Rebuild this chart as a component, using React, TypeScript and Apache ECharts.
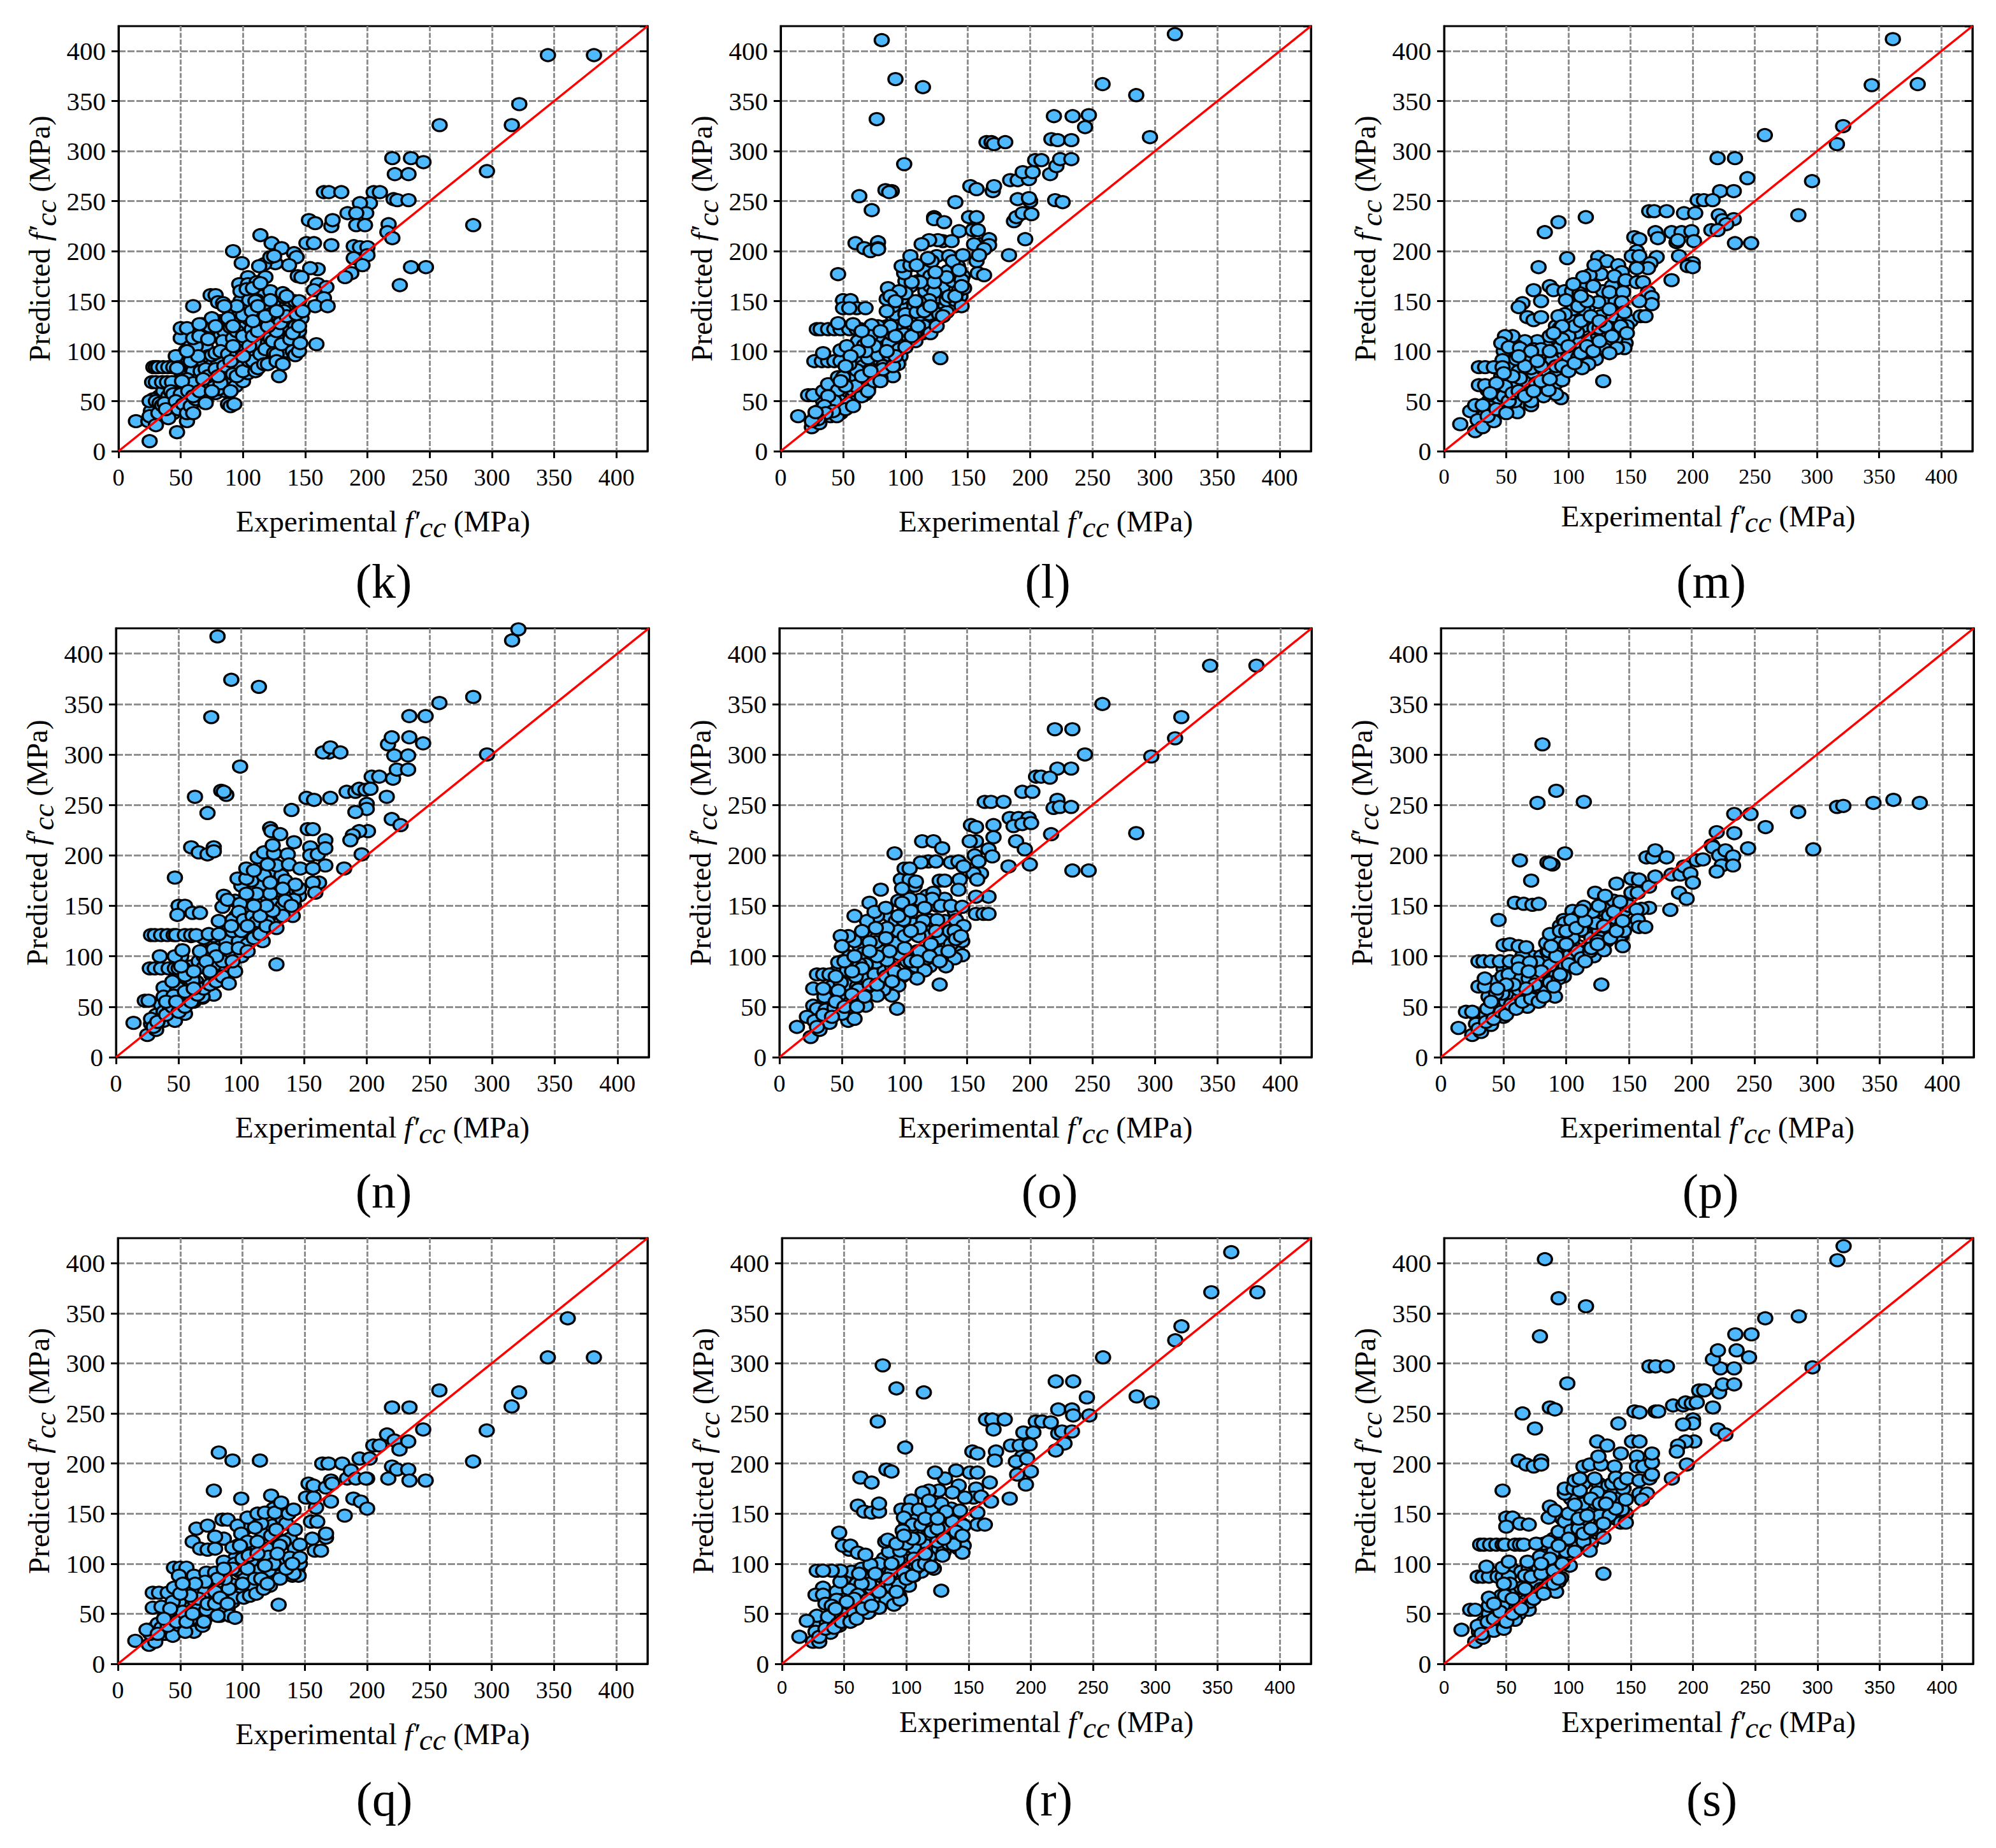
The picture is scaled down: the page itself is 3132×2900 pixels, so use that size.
import React, { useEffect, useRef } from "react";
import * as echarts from "echarts";

const axisMax = 425;
const identityLine = [[0, 0], [425, 425]];
const xTitle = "Experimental f′cc (MPa)";
const yTitle = "Predicted f′cc (MPa)";

const pointsK = [[14,30],[25,10],[47,19],[345,396],[382,396],[322,347],[316,326],[258,326],[296,280],[285,226],[220,293],[235,293],[245,289],[222,277],[233,277],[221,252],[224,251],[233,251],[165,259],[169,259],[179,259],[205,259],[210,259],[202,248],[194,248],[199,238],[184,238],[191,238],[191,226],[198,226],[217,227],[216,219],[220,213],[171,225],[172,231],[153,231],[158,228],[151,208],[157,208],[171,206],[189,205],[194,204],[200,204],[200,196],[189,193],[196,186],[187,178],[182,174],[235,184],[247,184],[226,166],[114,216],[123,208],[131,203],[92,200],[99,188],[141,198],[143,194],[137,186],[126,188],[117,187],[113,185],[122,194],[160,182],[154,183],[144,175],[147,174],[104,174],[118,174],[160,167],[167,164],[157,161],[97,167],[104,167],[111,169],[122,160],[98,160],[122,151],[133,154],[111,151],[105,151],[74,156],[78,156],[80,149],[84,148],[88,143],[60,145],[145,150],[165,153],[158,145],[168,145],[159,107],[129,75],
[24,30],[26,40],[28,52],[25,50],[30,50],[33,48],[28,84],[30,84],[32,84],[36,84],[40,84],[44,84],[27,69],[30,69],[35,69],[39,69],[43,69],[25,35],[30,26],[32,38],[35,46],[37,48],[40,33],[38,42],[42,60],[44,57],[46,95],[48,84],[50,57],[50,113],[50,123],[55,123],[46,50],[48,42],[52,47],[55,30],[55,38],[58,45],[60,38],[62,52],[55,72],[60,68],[58,90],[58,105],[62,105],[60,113],[65,115],[67,127],[64,95],[66,80],[70,82],[68,62],[70,50],[72,75],[70,48],[73,125],[72,112],[75,96],[78,98],[77,130],[78,82],[80,62],[82,68],[85,120],[84,110],[82,100],[88,97],[85,85],[90,60],[88,47],[90,45],[93,47],[92,77],[95,75],[95,95],[92,113],[90,124],[95,120],[100,115],[100,100],[100,80],[105,90],[108,90],[110,80],[112,83],[105,105],[107,122],[108,115],[112,120],[114,97],[117,87],[120,87],[118,102],[122,113],[124,110],[125,98],[127,97],[127,90],[132,87],[131,107],[127,120],[125,132],[122,137],[133,140],[130,128],[135,135],[138,115],[138,112],[140,100],[142,96],[145,100],[146,108],[145,120],[147,133],[143,137],[148,140],[97,135],[100,136],[95,145],[107,140],[110,150],[112,145],[108,130],[85,145],[88,133],[92,125],[75,133],[78,125],[65,127],[55,100],[47,83],[51,70],[56,60],[60,55],[65,60],[68,72],[75,60],[80,75],[90,90],[92,105],[100,95],[120,125],[118,135],[103,162],[108,163],[114,168],[125,195],[127,140],[140,118],[145,125],[132,158],[135,155]];
const extraK = [[28,45],[33,55],[36,60],[40,55],[42,48],[44,38],[46,60],[48,70],[50,80],[52,60],[52,90],[54,100],[56,85],[58,55],[60,80],[62,62],[64,72],[66,100],[68,90],[70,105],[72,95],[74,85],[76,70],[78,58],[80,90],[82,115],[84,78],[86,60],[88,72],[90,100],[92,88],[94,65],[96,108],[98,85],[100,70],[102,125],[104,78],[106,100],[108,128],[110,108],[112,92],[114,130],[116,118],[118,95],[120,108],[122,100],[124,122],[126,105],[128,115],[130,95],[132,125],[134,100],[136,120],[138,130],[140,108],[142,125],[144,112],[98,150],[102,145],[90,135],[82,130],[70,120],[62,118],[56,110],[115,155],[120,145],[128,150],[135,145],[142,150],[105,132]];

const pointsL = [[81,411],[92,372],[114,364],[77,332],[99,287],[63,255],[73,241],[316,417],[258,367],[285,356],[296,314],[84,261],[89,260],[87,259],[60,208],[67,203],[72,200],[78,209],[78,203],[78,202],[46,177],[50,151],[56,151],[50,143],[61,143],[68,143],[55,143],[29,122],[32,122],[38,122],[43,122],[48,122],[55,122],[61,122],[64,122],[46,128],[58,127],[27,90],[33,90],[38,90],[43,90],[48,90],[34,98],[48,101],[53,105],[22,56],[26,56],[14,35],[25,24],[31,28],[33,42],[39,36],[48,38],[34,60],[38,67],[46,61],[46,74],[50,74],[43,50],[55,48],[61,57],[68,57],[70,63],[58,61],[61,81],[55,87],[67,106],[70,93],[78,96],[73,126],[78,115],[72,115],[87,108],[87,96],[95,102],[90,75],[94,87],[80,73],[82,85],[89,117],[99,117],[107,117],[94,128],[92,137],[90,145],[85,152],[86,163],[97,153],[100,137],[109,139],[112,128],[104,128],[118,120],[119,137],[127,137],[133,139],[125,154],[133,151],[123,159],[140,151],[145,145],[143,161],[147,163],[145,171],[133,174],[123,169],[112,169],[105,169],[119,151],[111,149],[99,178],[97,185],[104,186],[104,195],[109,186],[121,190],[124,179],[118,193],[138,190],[146,196],[143,181],[157,190],[158,178],[163,176],[160,207],[155,207],[167,212],[167,206],[163,202],[143,220],[137,210],[126,211],[119,211],[113,207],[123,234],[123,232],[131,229],[140,249],[151,234],[157,234],[154,221],[158,221],[159,196],[183,196],[196,212],[187,230],[189,234],[194,238],[201,237],[190,252],[200,250],[199,253],[184,271],[190,271],[199,272],[194,279],[202,279],[204,291],[209,291],[216,277],[221,285],[224,292],[233,292],[220,251],[226,249],[217,312],[222,311],[233,311],[219,335],[234,335],[247,336],[244,324],[165,309],[169,309],[171,307],[180,309],[152,265],[157,262],[170,260],[171,265],[128,93],
[40,35],[45,35],[52,42],[58,45],[65,55],[70,60],[75,70],[80,70],[82,82],[90,85],[92,95],[100,104],[105,115],[115,125],[120,118],[125,125],[130,135],[135,155],[140,155],[145,165],[75,105],[68,100],[62,100],[56,95],[52,85],[60,65],[65,75],[72,80],[85,100],[88,125],[92,115],[100,130],[110,125],[115,140],[120,145],[108,150],[100,158],[95,160],[88,155],[92,150],[85,140],[80,120],[70,110],[65,120],[52,65],[48,70],[38,55],[35,45],[42,40],[36,38],[30,32],[28,35],[25,30],[28,39]];
const extraL = [[30,40],[34,50],[38,45],[42,60],[44,52],[46,45],[48,58],[50,50],[52,75],[54,60],[56,70],[58,55],[60,75],[62,90],[64,62],[66,85],[68,70],[70,80],[72,100],[74,92],[76,78],[78,108],[80,90],[82,100],[84,115],[86,88],[88,105],[90,125],[92,105],[94,118],[96,95],[98,125],[100,112],[102,145],[104,120],[106,135],[108,110],[110,150],[112,135],[114,118],[116,160],[118,130],[120,165],[122,135],[124,145],[126,170],[128,145],[130,165],[132,145],[134,180],[136,150],[138,170],[140,145],[142,185],[144,155],[146,175],[85,125],[78,125],[70,100],[62,110],[90,135],[96,145],[104,165],[115,180],[125,195],[135,195],[120,175],[110,170],[100,170],[130,210]];

const pointsM = [[361,412],[344,366],[381,367],[321,325],[316,307],[258,316],[296,270],[285,236],[220,293],[234,293],[244,273],[222,260],[233,260],[204,251],[209,251],[216,251],[165,240],[169,240],[179,240],[193,238],[202,238],[221,236],[224,231],[233,232],[227,227],[215,221],[220,221],[183,219],[191,219],[199,220],[187,209],[188,211],[201,210],[234,208],[247,208],[170,219],[172,213],[153,214],[157,212],[155,200],[151,195],[157,195],[171,194],[166,188],[164,183],[155,183],[189,195],[200,188],[196,185],[200,184],[183,171],[114,234],[92,229],[81,219],[99,193],[76,184],[124,194],[131,190],[126,177],[117,176],[112,174],[121,186],[140,186],[143,179],[137,175],[146,171],[155,169],[160,169],[164,159],[167,154],[167,147],[157,150],[158,135],[162,135],[133,159],[144,159],[143,149],[145,139],[133,142],[124,149],[112,142],[104,142],[97,137],[85,165],[88,161],[72,161],[97,160],[103,160],[109,158],[104,167],[98,151],[63,148],[60,144],[78,150],[67,134],[72,131],[78,134],[55,115],[49,115],[46,108],[52,104],[61,103],[72,102],[78,102],[93,123],[85,115],[107,119],[121,123],[125,123],[138,123],[138,113],[147,125],[145,103],[139,103],[129,102],[133,98],[128,70],[108,94],[116,87],[111,83],[93,104],[87,91],[89,75],[94,53],[90,57],[80,55],[70,46],[59,39],[70,83],[78,85],[61,73],[58,92],[47,91],[45,67],[49,65],[57,50],[70,50],[37,44],[35,61],[28,66],[33,66],[28,84],[33,84],[40,84],[47,84],[13,27],[21,40],[27,31],[25,20],[31,24],[40,30],[25,46],[31,46],[47,40],[84,61],[95,71],
[35,35],[42,42],[50,38],[52,50],[55,58],[60,60],[65,55],[72,60],[78,70],[85,72],[90,85],[95,85],[100,80],[105,88],[110,98],[115,105],[120,100],[125,110],[100,115],[105,125],[110,130],[118,135],[95,112],[100,105],[85,100],[70,100],[65,85],[55,75],[48,78],[42,68],[37,58],[60,95],[75,90],[130,125],[135,115],[142,125],[147,118],[125,130],[108,145],[115,150],[120,165],[110,155],[92,135],[95,125],[88,118]];
const extraM = [[28,40],[32,35],[36,50],[40,60],[44,48],[46,75],[48,55],[50,68],[52,85],[54,52],[56,95],[58,65],[60,80],[62,48],[64,98],[66,70],[68,55],[70,92],[72,78],[74,68],[76,95],[78,60],[80,82],[82,110],[84,78],[86,62],[88,100],[90,68],[92,112],[94,92],[96,78],[98,128],[100,95],[102,118],[104,85],[106,140],[108,108],[110,88],[112,125],[114,98],[116,145],[118,112],[120,130],[122,92],[124,115],[126,135],[128,108],[130,150],[132,118],[134,105],[136,135],[138,150],[140,112],[142,168],[144,130],[146,108],[148,128],[150,130],[100,135],[105,155],[112,165],[120,178],[128,160],[135,165],[90,125],[82,105],[75,110],[65,110],[58,105],[48,100]];

const pointsN = [[81,417],[321,424],[316,413],[92,374],[114,367],[76,337],[99,288],[63,258],[73,242],[84,264],[88,260],[86,263],[60,208],[66,203],[73,201],[78,208],[78,204],[47,178],[50,150],[55,150],[49,141],[61,143],[67,143],[28,121],[31,121],[36,121],[41,121],[46,121],[48,121],[55,121],[60,121],[64,121],[27,88],[31,88],[36,88],[42,88],[47,88],[50,88],[54,88],[35,100],[47,100],[53,106],[23,56],[26,56],[14,34],[28,38],[25,22],[32,27],[38,69],[38,60],[49,69],[46,61],[43,47],[38,36],[47,36],[55,43],[69,59],[69,60],[61,76],[55,81],[70,89],[78,91],[67,105],[78,107],[74,122],[88,115],[98,115],[93,125],[93,136],[85,149],[86,160],[89,156],[99,152],[98,144],[102,136],[109,140],[112,134],[112,123],[117,115],[121,134],[125,152],[133,150],[141,140],[142,156],[146,167],[143,171],[133,167],[123,162],[112,162],[104,162],[97,177],[104,177],[104,187],[110,185],[113,198],[121,191],[123,173],[118,203],[126,202],[125,210],[123,227],[124,224],[131,221],[137,201],[138,191],[142,213],[147,187],[140,245],[153,226],[157,226],[155,208],[155,200],[161,201],[167,215],[167,207],[167,190],[157,187],[162,173],[157,173],[159,163],[182,187],[152,257],[158,255],[171,257],[170,302],[165,302],[171,307],[179,302],[184,263],[191,263],[194,266],[199,265],[203,266],[204,278],[210,278],[200,251],[200,246],[191,243],[216,258],[201,224],[194,224],[189,220],[187,215],[196,201],[220,236],[227,230],[221,276],[224,285],[233,285],[222,299],[233,299],[217,310],[220,317],[234,317],[245,311],[234,338],[247,338],[258,351],[285,357],[296,300],[128,92],
[30,30],[33,35],[40,42],[45,50],[50,45],[55,50],[60,55],[65,62],[70,68],[75,72],[80,75],[85,80],[90,73],[95,85],[100,100],[105,112],[110,118],[115,122],[120,130],[128,128],[133,140],[100,125],[90,105],[85,95],[80,100],[72,95],[62,85],[55,65],[52,90],[45,75],[40,55],[48,55],[62,68],[75,85],[93,95],[105,130],[115,140],[125,145],[135,155],[140,150],[120,150],[110,150],[92,130],[82,122],[88,108],[98,108],[105,105]];
const extraN = [[28,33],[32,42],[36,52],[38,45],[42,62],[44,55],[46,68],[48,82],[50,60],[52,72],[54,50],[56,80],[58,68],[60,90],[62,55],[64,75],[66,95],[68,62],[70,100],[72,70],[74,105],[76,82],[78,62],[80,92],[82,110],[84,85],[86,125],[88,95],[90,130],[92,85],[94,110],[96,140],[98,100],[100,135],[102,115],[104,150],[106,125],[108,155],[110,130],[112,145],[114,125],[116,170],[118,135],[120,160],[122,140],[124,185],[126,145],[128,165],[130,145],[132,180],[134,150],[136,165],[138,145],[140,170],[142,150],[144,165],[146,160],[95,155],[100,170],[108,175],[118,180],[128,190],[135,175],[82,135],[78,120],[70,118],[60,120],[52,100]];

const pointsO = [[344,388],[381,388],[321,337],[316,316],[258,350],[297,298],[285,222],[220,325],[234,325],[244,300],[222,286],[233,286],[194,263],[202,263],[205,278],[209,278],[216,277],[164,253],[169,253],[179,253],[222,255],[219,247],[224,248],[233,248],[184,237],[191,237],[199,237],[187,229],[194,231],[201,232],[153,230],[157,228],[171,230],[171,218],[217,221],[189,214],[196,206],[157,214],[152,214],[167,206],[170,199],[156,200],[159,194],[183,189],[200,191],[161,182],[155,182],[158,176],[234,185],[247,185],[167,159],[157,159],[157,142],[163,142],[167,142],[114,214],[123,214],[130,207],[92,202],[119,194],[125,194],[113,193],[137,193],[143,194],[147,189],[132,175],[144,176],[143,166],[132,157],[123,163],[122,157],[112,156],[104,157],[97,176],[104,176],[109,174],[98,167],[100,187],[104,187],[81,166],[72,153],[76,144],[85,148],[60,140],[98,153],[116,148],[129,150],[137,150],[146,149],[141,136],[147,130],[140,125],[137,112],[141,117],[146,101],[140,98],[107,132],[93,135],[95,125],[86,128],[99,136],[111,120],[121,112],[120,136],[126,136],[77,128],[66,125],[55,120],[49,120],[50,110],[77,114],[72,114],[93,113],[67,103],[47,94],[77,94],[69,92],[64,92],[54,86],[86,96],[96,102],[118,98],[129,104],[133,90],[109,90],[116,86],[110,78],[128,72],[95,71],[94,48],[90,61],[83,67],[78,61],[69,51],[57,55],[63,67],[61,80],[49,74],[47,66],[30,82],[35,82],[40,82],[27,68],[35,68],[27,51],[30,48],[37,47],[44,49],[14,30],[22,40],[25,20],[28,36],[32,27],[40,34],[55,36],[60,38],[50,43],
[30,30],[35,42],[42,40],[45,55],[52,50],[58,62],[62,50],[68,60],[72,72],[78,72],[85,80],[92,85],[100,82],[105,95],[112,105],[120,100],[100,108],[88,105],[78,100],[66,88],[58,85],[45,80],[52,95],[60,100],[72,105],[85,118],[95,140],[105,145],[115,135],[125,125],[100,120],[110,95],[90,75],[128,95],[135,105],[145,120],[112,128],[105,125]];
const extraO = [[28,42],[32,50],[36,60],[38,38],[42,70],[44,45],[46,85],[48,55],[50,95],[52,60],[54,72],[56,100],[58,50],[60,88],[62,70],[64,110],[66,58],[68,80],[70,120],[72,62],[74,98],[76,82],[78,118],[80,68],[82,105],[84,85],[86,75],[88,122],[90,90],[92,70],[94,100],[96,130],[98,80],[100,145],[102,95],[104,125],[106,85],[108,150],[110,105],[112,88],[114,135],[116,105],[118,120],[120,90],[122,130],[124,108],[126,150],[128,118],[130,100],[132,135],[134,95],[136,125],[138,105],[140,145],[142,110],[144,130],[146,115],[100,165],[108,170],[118,160],[128,175],[95,155],[88,140],[78,140],[70,135],[60,115]];

const pointsP = [[81,310],[92,264],[114,253],[77,252],[99,202],[63,195],[72,175],[85,193],[89,191],[87,192],[59,153],[66,152],[73,151],[78,152],[46,136],[50,111],[55,112],[62,110],[68,109],[30,95],[34,95],[40,95],[47,95],[55,95],[62,95],[30,70],[35,70],[35,78],[49,80],[54,82],[49,63],[44,63],[20,45],[25,45],[37,48],[14,29],[28,33],[25,22],[32,25],[40,32],[50,40],[58,50],[69,50],[62,67],[64,78],[70,78],[77,94],[71,94],[77,80],[84,65],[91,60],[87,74],[94,78],[87,91],[99,90],[92,103],[86,105],[84,113],[92,116],[87,122],[98,136],[99,133],[104,136],[112,126],[106,109],[109,105],[112,98],[119,105],[125,115],[130,106],[133,128],[123,133],[121,144],[126,150],[114,149],[123,163],[131,160],[138,144],[143,154],[140,172],[143,129],[142,118],[146,125],[145,110],[152,177],[158,176],[152,163],[157,163],[166,169],[171,179],[166,148],[160,147],[156,146],[157,136],[158,129],[163,129],[164,198],[169,198],[171,205],[180,198],[183,146],[184,181],[191,181],[194,189],[199,182],[201,173],[190,163],[196,157],[204,195],[209,196],[216,210],[220,223],[217,208],[222,200],[227,205],[233,199],[224,190],[233,190],[220,184],[234,222],[234,241],[247,241],[245,207],[259,228],[285,243],[297,206],[316,248],[321,249],[345,252],[361,255],[382,252],[128,72],
[30,28],[36,35],[42,38],[48,45],[52,42],[56,52],[60,48],[65,55],[72,58],[78,55],[82,60],[90,70],[95,82],[102,92],[108,88],[115,95],[120,108],[125,112],[105,118],[100,112],[92,100],[80,85],[75,72],[68,68],[58,72],[52,72],[45,68],[40,55],[62,88],[70,85],[88,110],[95,125],[100,125],[108,128],[115,135],[130,130],[135,118],[140,125],[145,135],[112,145]];
const extraP = [[28,42],[32,36],[36,42],[38,60],[42,48],[44,75],[46,52],[48,62],[50,88],[52,55],[54,65],[56,78],[58,60],[60,80],[62,58],[64,90],[66,62],[68,85],[70,60],[72,100],[74,68],[76,85],[78,70],[80,100],[82,75],[84,95],[86,68],[88,85],[90,118],[92,82],[94,95],[96,108],[98,80],[100,135],[102,100],[104,118],[106,92],[108,135],[110,110],[112,95],[114,125],[116,105],[118,140],[120,118],[122,100],[124,145],[126,125],[128,118],[130,150],[132,115],[134,140],[136,125],[138,155],[140,135],[142,148],[144,120],[146,145],[148,130],[150,150],[105,145],[95,130],[110,140],[85,105],[75,90],[65,100],[55,90]];

const pointsQ = [[14,23],[25,19],[30,22],[26,30],[23,34],[35,36],[38,30],[44,28],[28,56],[35,57],[28,71],[33,71],[40,71],[45,76],[49,62],[44,62],[45,96],[50,96],[55,96],[49,88],[61,88],[58,78],[65,72],[70,72],[61,64],[58,44],[61,32],[54,32],[68,38],[69,42],[64,54],[71,54],[84,53],[90,48],[94,46],[80,48],[78,72],[71,91],[78,91],[85,102],[94,100],[95,94],[92,79],[94,66],[89,75],[101,66],[106,68],[108,79],[111,70],[117,75],[111,93],[121,93],[107,103],[121,107],[130,85],[138,106],[138,95],[145,88],[141,90],[146,106],[129,59],[63,135],[60,122],[66,115],[72,114],[78,115],[72,138],[78,127],[84,144],[88,144],[77,173],[81,211],[92,203],[114,203],[99,165],[96,138],[99,130],[104,146],[110,136],[112,150],[118,151],[104,122],[112,122],[92,116],[123,128],[133,122],[130,118],[127,134],[126,151],[123,168],[131,161],[137,150],[141,154],[142,134],[146,119],[156,125],[167,126],[167,130],[158,113],[163,113],[155,142],[160,142],[159,156],[151,166],[157,166],[153,180],[157,178],[167,176],[171,162],[171,183],[172,180],[164,200],[169,200],[180,200],[182,148],[184,185],[187,193],[191,185],[200,185],[199,185],[189,165],[195,162],[200,155],[194,205],[202,205],[205,218],[210,218],[216,229],[222,223],[226,214],[233,222],[245,234],[217,185],[220,197],[224,194],[233,194],[234,183],[247,183],[220,256],[234,256],[258,273],[285,202],[296,233],[316,257],[322,271],[345,306],[361,345],[382,306],
[32,30],[40,38],[47,42],[52,52],[55,42],[60,50],[65,65],[72,60],[78,60],[82,66],[88,60],[86,85],[100,80],[104,95],[110,85],[115,85],[120,80],[100,105],[105,108],[92,95],[80,85],[70,82],[58,68],[50,70],[42,55],[37,45],[125,100],[128,110],[135,95],[140,100],[118,98],[112,110],[98,118],[85,95],[62,80],[52,80]];
const extraQ = [[28,35],[32,40],[36,30],[38,50],[42,40],[44,50],[46,35],[48,68],[50,45],[52,62],[54,75],[56,50],[58,88],[60,42],[62,70],[64,45],[66,82],[68,58],[70,65],[72,48],[74,78],[76,55],[78,85],[80,65],[82,48],[84,90],[86,72],[88,55],[90,80],[92,62],[94,105],[96,70],[98,92],[100,72],[102,85],[104,112],[106,80],[108,95],[110,120],[112,78],[114,100],[116,130],[118,88],[120,115],[122,78],[124,138],[126,95],[128,125],[130,88],[132,145],[134,105],[136,92],[138,125],[140,88],[142,115],[144,95],[146,100],[96,118],[102,135],[115,140],[125,155],[135,140],[85,125]];

const pointsR = [[361,411],[345,371],[382,371],[321,337],[316,323],[258,306],[297,261],[285,267],[220,282],[234,282],[245,266],[222,254],[233,254],[234,248],[247,248],[164,244],[169,244],[179,244],[170,234],[204,242],[209,242],[216,241],[194,231],[202,231],[222,230],[225,232],[233,232],[227,220],[220,213],[184,218],[191,218],[199,219],[193,207],[188,202],[197,205],[200,192],[189,189],[196,179],[183,165],[153,212],[157,210],[172,212],[171,203],[151,191],[157,191],[167,181],[156,175],[154,166],[160,167],[168,162],[157,151],[157,139],[163,139],[147,166],[140,193],[142,178],[137,171],[126,173],[131,185],[123,191],[118,173],[113,171],[118,163],[104,163],[96,154],[102,154],[110,154],[98,146],[105,139],[112,139],[97,133],[120,142],[137,142],[132,152],[143,153],[146,138],[142,127],[145,111],[138,119],[129,108],[125,122],[120,132],[118,107],[106,116],[106,105],[107,95],[98,92],[93,104],[86,112],[83,122],[85,124],[95,113],[78,100],[71,99],[70,80],[64,80],[54,74],[61,69],[49,64],[44,64],[47,82],[47,93],[40,93],[28,93],[33,93],[33,76],[27,69],[33,69],[35,60],[40,58],[28,48],[37,47],[20,43],[14,27],[27,32],[25,22],[30,22],[39,31],[45,40],[58,50],[69,51],[69,64],[84,65],[90,59],[95,64],[78,56],[88,77],[94,79],[88,91],[98,91],[128,73],[54,114],[49,118],[55,118],[61,111],[67,109],[46,131],[61,158],[66,152],[72,151],[78,152],[78,160],[63,186],[72,181],[81,298],[84,194],[88,192],[77,242],[99,216],[92,275],[114,271],
[30,27],[35,35],[42,36],[48,42],[55,42],[60,45],[65,55],[72,58],[78,72],[85,85],[92,72],[100,85],[105,88],[110,98],[115,100],[120,97],[100,120],[92,120],[88,100],[75,90],[62,90],[58,65],[52,62],[43,55],[125,135],[130,125],[110,125],[115,110],[140,132],[145,128],[105,125],[98,128],[115,145],[125,145]];
const extraR = [[28,42],[32,30],[36,42],[38,68],[42,52],[44,72],[46,38],[48,55],[50,85],[52,45],[54,60],[56,92],[58,58],[60,80],[62,50],[64,95],[66,62],[68,85],[70,52],[72,75],[74,95],[76,62],[78,88],[80,72],[82,105],[84,80],[86,95],[88,68],[90,115],[92,85],[94,68],[96,105],[98,120],[100,95],[102,78],[104,135],[106,88],[108,125],[110,105],[112,92],[114,120],[116,100],[118,130],[120,108],[122,95],[124,140],[126,115],[128,130],[130,112],[132,135],[134,120],[136,155],[138,130],[140,150],[142,115],[144,140],[146,118],[100,140],[108,150],[120,155],[128,160],[90,105]];

const pointsS = [[81,404],[92,365],[114,357],[77,327],[99,280],[63,250],[73,235],[85,256],[89,254],[60,203],[66,199],[72,197],[78,203],[78,199],[47,173],[50,146],[55,146],[50,137],[61,140],[68,139],[29,119],[32,119],[37,119],[42,119],[47,119],[49,119],[57,119],[61,119],[64,119],[27,87],[31,87],[36,87],[43,87],[47,87],[52,87],[34,97],[47,96],[52,102],[21,54],[25,54],[14,34],[27,38],[25,22],[31,26],[40,33],[48,35],[36,58],[36,66],[47,58],[49,68],[45,46],[57,44],[68,54],[69,62],[60,60],[62,76],[53,80],[65,88],[70,87],[78,90],[67,102],[77,107],[74,120],[80,74],[84,79],[90,72],[94,86],[88,93],[88,112],[98,112],[101,98],[84,122],[92,132],[84,146],[85,157],[89,153],[97,142],[100,150],[102,133],[108,135],[112,122],[117,113],[121,134],[128,126],[125,148],[112,160],[105,159],[97,170],[97,175],[104,175],[109,173],[105,183],[109,185],[121,185],[112,197],[117,199],[126,199],[124,207],[123,222],[131,218],[123,171],[122,160],[133,166],[133,148],[143,154],[146,164],[142,141],[146,141],[137,197],[138,186],[142,210],[142,180],[147,185],[140,240],[151,222],[157,222],[155,207],[155,197],[160,197],[157,183],[165,185],[167,189],[167,201],[167,210],[157,170],[163,170],[159,164],[153,252],[157,251],[170,252],[172,252],[165,297],[170,297],[179,297],[183,185],[184,258],[192,258],[194,261],[199,260],[203,261],[205,273],[209,273],[200,244],[200,240],[192,239],[216,256],[201,222],[194,222],[188,218],[187,212],[195,199],[220,234],[226,229],[221,271],[224,279],[233,279],[222,295],[233,295],[216,304],[220,313],[235,313],[245,306],[234,329],[247,329],[258,345],[285,347],[296,296],[316,403],[321,417],[128,90],
[30,30],[35,42],[40,45],[45,52],[50,42],[55,50],[62,55],[72,65],[80,70],[88,80],[92,85],[95,100],[105,112],[112,130],[118,135],[128,140],[138,155],[100,125],[92,118],[85,105],[78,100],[65,75],[55,65],[48,80],[40,60],[108,145],[115,148],[118,165],[125,160],[130,160]];
const extraS = [[28,32],[32,42],[36,50],[38,35],[42,55],[44,40],[46,68],[48,48],[50,78],[52,55],[54,95],[56,58],[58,75],[60,50],[62,92],[64,62],[66,80],[68,95],[70,72],[72,100],[74,82],[76,95],[78,75],[80,108],[82,90],[84,100],[86,80],[88,125],[90,98],[92,82],[94,112],[96,125],[98,105],[100,135],[102,115],[104,145],[106,125],[108,120],[110,155],[112,140],[114,125],[116,160],[118,120],[120,155],[122,135],[124,180],[126,140],[128,165],[130,145],[132,178],[134,155],[136,170],[138,145],[140,165],[142,150],[144,175],[146,150],[95,145],[102,165],[112,180],[135,180],[80,120]];

const SERIF = "Liberation Serif";
const SANS = "Liberation Sans";

const panels = [
  { label: "(k)", data: [...extraK, ...pointsK], l: 186, r: 1016, t: 41, b: 708, labelX: 602, labelY: 912, xFont: 38, xFamily: SERIF, nameGap: 77 },
  { label: "(l)", data: [...extraL, ...pointsL], l: 1225, r: 2057, t: 41, b: 708, labelX: 1644, labelY: 912, xFont: 38, xFamily: SERIF, nameGap: 77 },
  { label: "(m)", data: [...extraM, ...pointsM], l: 2266, r: 3095, t: 41, b: 708, labelX: 2685, labelY: 912, xFont: 34, xFamily: SERIF, nameGap: 69 },
  { label: "(n)", data: [...extraN, ...pointsN], l: 182, r: 1018, t: 986, b: 1659, labelX: 602, labelY: 1869, xFont: 38, xFamily: SERIF, nameGap: 77 },
  { label: "(o)", data: [...extraO, ...pointsO], l: 1223, r: 2058, t: 986, b: 1659, labelX: 1647, labelY: 1869, xFont: 38, xFamily: SERIF, nameGap: 77 },
  { label: "(p)", data: [...extraP, ...pointsP], l: 2261, r: 3097, t: 986, b: 1659, labelX: 2684, labelY: 1869, xFont: 38, xFamily: SERIF, nameGap: 77 },
  { label: "(q)", data: [...extraQ, ...pointsQ], l: 185, r: 1016, t: 1943, b: 2611, labelX: 603, labelY: 2823, xFont: 38, xFamily: SERIF, nameGap: 77 },
  { label: "(r)", data: [...extraR, ...pointsR], l: 1227, r: 2057, t: 1943, b: 2611, labelX: 1645, labelY: 2823, xFont: 29, xFamily: SANS, nameGap: 58 },
  { label: "(s)", data: [...extraS, ...pointsS], l: 2266, r: 3096, t: 1943, b: 2611, labelX: 2686, labelY: 2823, xFont: 29, xFamily: SANS, nameGap: 58 },
];

function titleRich(size: number) {
  return {
    n: { fontFamily: SERIF, fontSize: size, color: "#000", lineHeight: size * 1.4, verticalAlign: "middle" },
    i: { fontFamily: SERIF, fontStyle: "italic", fontSize: size, color: "#000", lineHeight: size * 1.4, verticalAlign: "middle" },
    c: { fontFamily: SERIF, fontStyle: "italic", fontSize: size, color: "#000", lineHeight: size * 1.4, verticalAlign: "bottom" },
  };
}
function titleText(t: string) {
  const [a, rest] = t.split(" f′cc ");
  return `{n|${a} }{i|f′}{c|cc}{n| ${rest}}`;
}

export default function App() {
  const ref = useRef<HTMLDivElement>(null);
  useEffect(() => {
    const chart = echarts.init(ref.current!, null, { renderer: "svg" });
    const grid: any[] = [], xAxis: any[] = [], yAxis: any[] = [], series: any[] = [], graphic: any[] = [];
    panels.forEach((p, i) => {
      grid.push({ left: p.l, top: p.t, width: p.r - p.l, height: p.b - p.t, show: true, borderColor: "#000", borderWidth: 3, backgroundColor: "transparent" });
      xAxis.push({
        gridIndex: i, type: "value", min: 0, max: axisMax, interval: 50, position: "bottom",
        name: titleText(xTitle), nameLocation: "middle", nameGap: p.nameGap,
        nameTextStyle: { rich: titleRich(47) },
        axisLine: { onZero: false, lineStyle: { color: "#000", width: 3 } },
        axisTick: { show: true, inside: false, length: 11, lineStyle: { color: "#000", width: 3 } },
        axisLabel: { fontFamily: p.xFamily, fontSize: p.xFont, color: "#000", margin: 22, showMaxLabel: false },
        splitLine: { show: true, showMinLine: false, showMaxLine: false, lineStyle: { color: "#8f8f8f", width: 3, type: [8, 2.5] } },
      });
      yAxis.push({
        gridIndex: i, type: "value", min: 0, max: axisMax, interval: 50, position: "left",
        name: titleText(yTitle), nameLocation: "middle", nameGap: 91, nameRotate: 90,
        nameTextStyle: { rich: titleRich(47) },
        axisLine: { onZero: false, lineStyle: { color: "#000", width: 3 } },
        axisTick: { show: true, inside: false, length: 11, lineStyle: { color: "#000", width: 3 } },
        axisLabel: { fontFamily: SERIF, fontSize: 41, color: "#000", margin: 20, showMaxLabel: false },
        splitLine: { show: true, showMinLine: false, showMaxLine: false, lineStyle: { color: "#8f8f8f", width: 3, type: [11, 3] } },
      });
      series.push({
        type: "scatter", xAxisIndex: i, yAxisIndex: i * 2, data: p.data, symbol: "circle", symbolSize: [22, 19], clip: true, z: 3,
        itemStyle: { color: "#4FB9FF", borderColor: "#000", borderWidth: 3.4, opacity: 1 },
      });
      series.push({
        type: "line", xAxisIndex: i, yAxisIndex: i * 2, data: identityLine, showSymbol: false, symbol: "none", z: 4, silent: true,
        lineStyle: { color: "#FF0000", width: 3.5 },
      });
      graphic.push({
        type: "text", x: p.labelX, y: p.labelY, z: 10,
        style: { text: p.label, fontFamily: SERIF, fontSize: 76, fill: "#000", textAlign: "center", textVerticalAlign: "middle" },
      });
    });
    const rightAxes = panels.map((_, i) => ({
      gridIndex: i, type: "value", min: 0, max: axisMax, interval: 50, position: "right",
      axisLine: { show: true, onZero: false, lineStyle: { color: "#000", width: 3 } },
      axisTick: { show: true, inside: true, length: 12, lineStyle: { color: "#000", width: 3 } },
      axisLabel: { show: false }, splitLine: { show: false },
    }));
    const allY: any[] = [];
    yAxis.forEach((y, i) => { allY.push(y); allY.push(rightAxes[i]); });
    chart.setOption({ animation: false, backgroundColor: "#fff", grid, xAxis, yAxis: allY, series, graphic });
    return () => chart.dispose();
  }, []);
  return <div ref={ref} style={{ position: "absolute", left: 0, top: 0, width: 3132, height: 2900 }} />;
}
